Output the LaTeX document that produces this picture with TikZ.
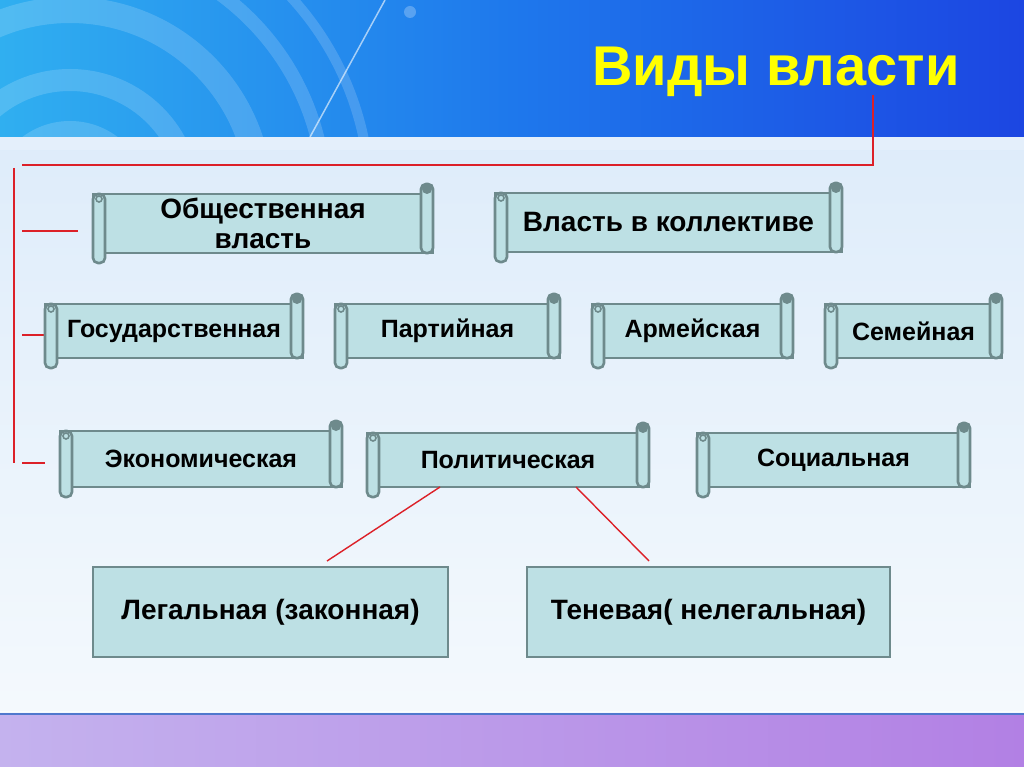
\documentclass[tikz,border=0pt]{standalone}
\usepackage{fontspec}
\setmainfont{Liberation Sans}
\usetikzlibrary{calc}
\definecolor{scrollfill}{RGB}{189,224,228}
\definecolor{scrolledge}{RGB}{110,138,140}
\definecolor{linered}{RGB}{220,32,40}
\definecolor{titleyellow}{RGB}{255,255,0}
\definecolor{bandblue}{RGB}{28,70,226}
\definecolor{bandmid}{RGB}{30,120,236}
\definecolor{bandcyan}{RGB}{48,175,240}
\definecolor{paletop}{RGB}{222,236,250}
\definecolor{palebot}{RGB}{244,249,253}
\definecolor{purpleL}{RGB}{196,178,238}
\definecolor{purpleR}{RGB}{178,128,228}
\definecolor{sepblue}{RGB}{80,120,205}
\tikzset{
  scrollbox/.style={draw=scrolledge, fill=scrollfill, line width=2.6pt, inner sep=0pt, outer sep=0pt,
    font=\fontsize{25}{29}\selectfont\bfseries, align=center, text=black},
  bigtext/.style={font=\fontsize{28}{30}\selectfont\bfseries},
  plainbox/.style={draw=scrolledge, fill=scrollfill, line width=2.4pt, inner sep=0pt, outer sep=0pt,
    font=\fontsize{28}{30}\selectfont\bfseries, align=center, text=black},
  rollpart/.style={draw=scrolledge, fill=scrollfill, line width=2.6pt, rounded corners=5pt},
  redline/.style={draw=linered, line width=1.4pt},
  titletext/.style={font=\fontsize{56}{60}\selectfont\bfseries, text=titleyellow, inner sep=0pt}
}
\newcommand{\scrolldeco}[1]{%
  \draw[rollpart] (#1.north west) rectangle ($(#1.south west)+(12,10)$);
  \draw[scrolledge, line width=1.6pt] ($(#1.north west)+(6,5)$) circle (3);
  \draw[rollpart] ($(#1.north east)+(-12,-10)$) rectangle (#1.south east);
  \fill[scrolledge] ($(#1.north east)+(-6,-5)$) circle (5);
}
\begin{document}
\begin{tikzpicture}[x=1pt,y=-1pt]
\useasboundingbox (0,0) rectangle (1024,767);
% background
\shade[top color=paletop, bottom color=palebot] (0,137) rectangle (1024,712);
\fill[white, opacity=0.2] (0,137) rectangle (1024,150);
\shade[left color=bandcyan, right color=bandblue, middle color=bandmid] (0,0) rectangle (1024,137);
\begin{scope}
  \clip (0,0) rectangle (1024,137);
  \foreach \r/\w in {70/18, 120/22, 190/26, 255/14, 300/10}
    \draw[white, opacity=0.16, line width=\w pt] (70,200) circle (\r);
  \draw[white, opacity=0.6, line width=1.5pt] (310,137) -- (385,0);
  \fill[white, opacity=0.25] (410,12) circle (6);
\end{scope}
\shade[left color=purpleL, right color=purpleR] (0,714) rectangle (1024,767);
\draw[sepblue, line width=2pt] (0,714) -- (1024,714);
\draw[white, opacity=0.7, line width=1pt] (0,711.5) -- (1024,711.5);
% title
\node[titletext] (title) at (776,72) {Виды власти};
% red tree lines
\coordinate (tstem) at (873,95);
\coordinate (tcorner) at (873,165);
\coordinate (tleft) at (22,165);
\draw[redline] (tstem) -- (tcorner) -- (tleft);
\coordinate (vtop) at (14,168);
\coordinate (vbot) at (14,463);
\draw[redline] (vtop) -- (vbot);
\coordinate (k1a) at (22,231); \coordinate (k1b) at (78,231);
\coordinate (k2a) at (22,335); \coordinate (k2b) at (45,335);
\coordinate (k3a) at (22,463); \coordinate (k3b) at (45,463);
\draw[redline] (k1a) -- (k1b);
\draw[redline] (k2a) -- (k2b);
\draw[redline] (k3a) -- (k3b);
% row 1
\node[scrollbox, bigtext, minimum width=340pt, minimum height=59pt] (obsh) at (263,223.5) {Общественная\\власть};
\scrolldeco{obsh}
\node[scrollbox, bigtext, minimum width=347pt, minimum height=59pt] (koll) at (668.5,222.5) {Власть в коллективе};
\scrolldeco{koll}
% row 2
\node[scrollbox, minimum width=258pt, minimum height=54pt] (gos) at (174,331) {Государственная};
\scrolldeco{gos}
\node[scrollbox, minimum width=225pt, minimum height=54pt] (part) at (447.5,331) {Партийная};
\scrolldeco{part}
\node[scrollbox, minimum width=201pt, minimum height=54pt] (arm) at (692.5,331) {Армейская};
\scrolldeco{arm}
\node[scrollbox, minimum width=177pt, minimum height=54pt] (sem) at (913.5,331) {Семейная};
\scrolldeco{sem}
% row 3
\node[scrollbox, minimum width=282pt, minimum height=56pt] (econ) at (201,459) {Экономическая};
\scrolldeco{econ}
\node[scrollbox, minimum width=282pt, minimum height=54pt] (pol) at (508,460) {Политическая};
\scrolldeco{pol}
\node[scrollbox, minimum width=273pt, minimum height=54pt] (soc) at (833.5,460) {Социальная};
\scrolldeco{soc}
% row 4
\node[plainbox, minimum width=355pt, minimum height=90pt] (leg) at (270.5,612) {Легальная (законная)};
\node[plainbox, minimum width=363pt, minimum height=90pt] (ten) at (708.5,612) {Теневая( нелегальная)};
% connectors from Политическая
\coordinate (legend) at (327,561);
\coordinate (tenend) at (649,561);
\draw[redline] ([xshift=-68pt]pol.south) -- (legend);
\draw[redline] ([xshift=68pt]pol.south) -- (tenend);
\end{tikzpicture}
\end{document}
